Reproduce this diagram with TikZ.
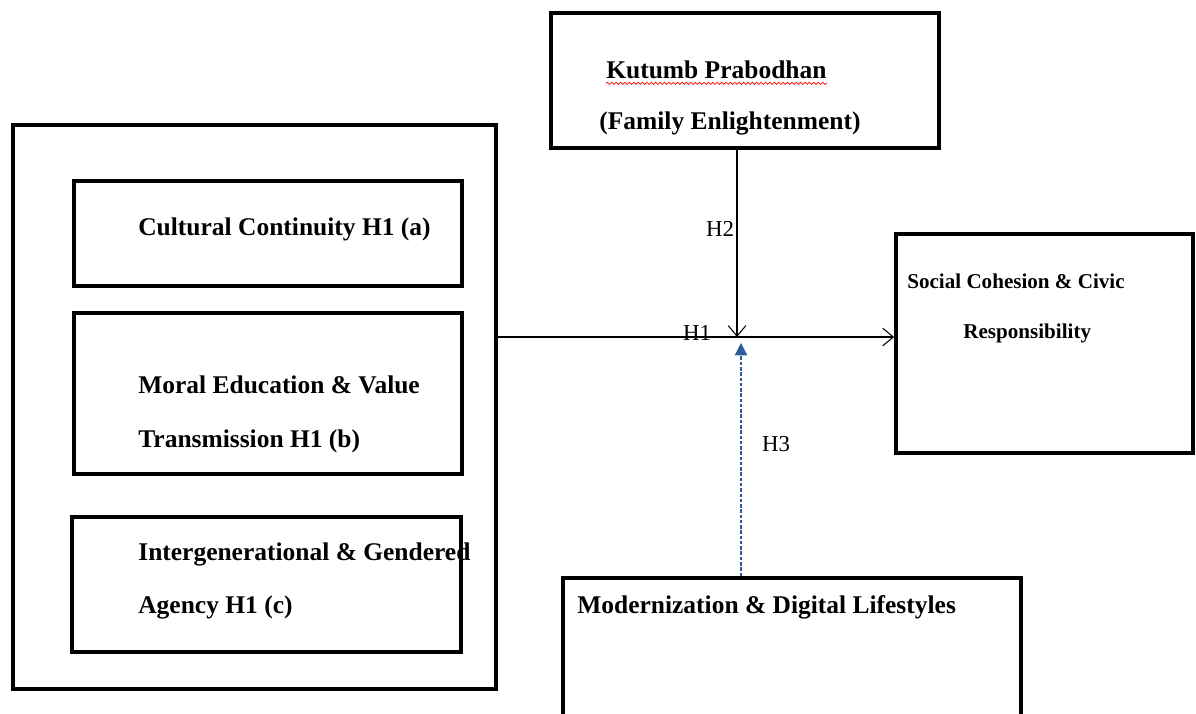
\documentclass[tikz,border=0pt]{standalone}
\usepackage{fontspec}
\setmainfont{Liberation Serif}
\usepackage{tikz}
\usetikzlibrary{
    arrows.meta,
    calc,
    decorations.pathmorphing,
    positioning
}
\definecolor{hblue}{HTML}{2E5C9A}
\tikzset{
    box/.style={draw, line width=2.2pt, rectangle, inner sep=0pt},
    lbl/.style={anchor=west, inner sep=0pt, font=\fontsize{14.5}{30.6}\selectfont\bfseries, align=left},
    slbl/.style={anchor=west, inner sep=0pt, font=\fontsize{12}{14}\selectfont\bfseries},
    hyp/.style={inner sep=0pt, font=\fontsize{13}{15}\selectfont}
}

\begin{document}
\begin{tikzpicture}[x=0.02cm, y=-0.02cm, >=Stealth]
    \clip (0,0) rectangle (1196,713);
    % outer group and its three dimensions
    \node[box, minimum width=9.66cm, minimum height=11.28cm] (grp) at (254.5,407) {};
    \node[box, minimum width=7.76cm, minimum height=2.10cm] (cult) at (268,233.5) {};
    \node[box, minimum width=7.76cm, minimum height=3.22cm] (moral) at (268,393.5) {};
    \node[box, minimum width=7.78cm, minimum height=2.70cm] (inter) at (266.5,584.5) {};
    \node[lbl] (cultT) at (138,229) {Cultural Continuity H1 (a)};
    \node[lbl] (moralT) at (138,414) {Moral Education \& Value\\Transmission H1 (b)};
    \node[lbl] (interT) at (138,581) {Intergenerational \& Gendered\\Agency H1 (c)};
    % moderator boxes and outcome
    \node[box, minimum width=7.76cm, minimum height=2.70cm] (kut) at (745,80.5) {};
    \node[lbl] (kutA) at (606,70) {Kutumb Prabodhan};
    \node[lbl] (kutB) at (599,123) {(Family Enlightenment)};
    \draw[red, line width=0.4pt, decorate,
          decoration={snake, amplitude=0.6pt, segment length=2.5pt}]
        ($(kutA.south west)+(0,4)$) -- ($(kutA.south east)+(0,4)$);
    \node[box, minimum width=5.94cm, minimum height=4.38cm] (soc) at (1044.5,343.5) {};
    \node[slbl] (socA) at (907,281) {Social Cohesion \& Civic};
    \node[slbl] (socB) at (963,333) {Responsibility};
    \node[box, minimum width=9.16cm, minimum height=3.04cm] (mod) at (792,654) {};
    \node[lbl] (modT) at (577,607) {Modernization \& Digital Lifestyles};
    % paths
    \coordinate (j2) at (737,337);
    \coordinate (j3) at (741,343);
    \draw[line width=0.6pt, -{Straight Barb[length=6pt, width=10pt]}]
        (grp.east |- j2) -- (soc.west |- j2);
    \draw[line width=0.6pt, -{Straight Barb[length=6pt, width=10pt]}]
        (kut.south -| j2) -- (j2);
    \draw[hblue, line width=0.6pt, dash pattern=on 2pt off 1pt,
          -{Triangle[length=7pt, width=7pt]}]
        (mod.north -| j3) -- (j3);
    \node[hyp] (h2) at (720,229) {H2};
    \node[hyp] (h1) at (697,333) {H1};
    \node[hyp] (h3) at (776,444) {H3};
\end{tikzpicture}
\end{document}
